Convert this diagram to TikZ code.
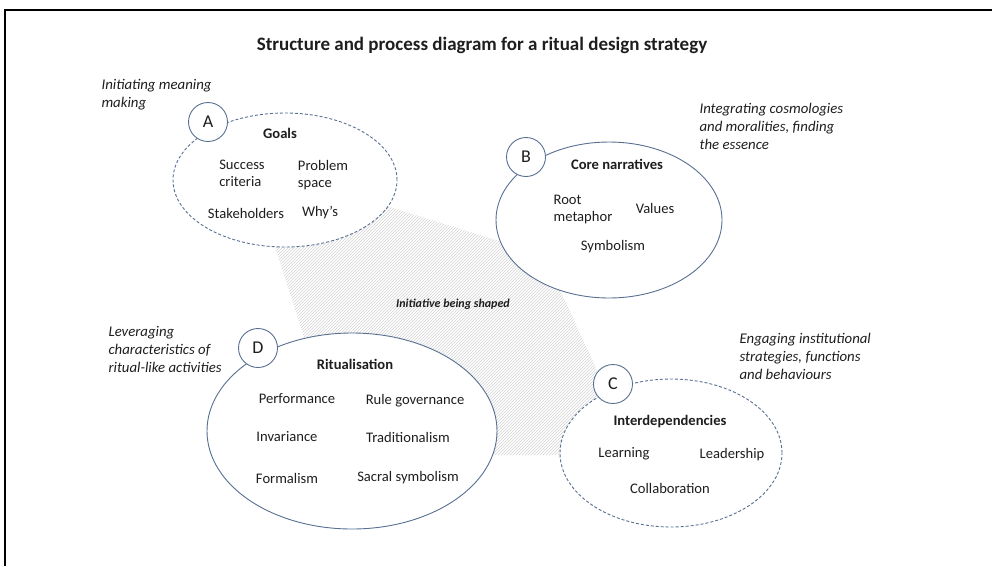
\documentclass[tikz,border=0pt]{standalone}
\usepackage{fontspec}
\setmainfont{Carlito}
\usetikzlibrary{shapes.geometric,patterns}
\definecolor{rimblue}{RGB}{88,112,146}
\definecolor{inkgrey}{RGB}{30,30,30}

\begin{document}
\begin{tikzpicture}[x=1pt,y=-1pt,
    every node/.style={text=inkgrey,font=\fontsize{14.6}{17}\selectfont},
    blob/.style={ellipse,draw=rimblue,line width=0.9pt,fill=white,inner sep=0pt},
    dashblob/.style={blob,dash pattern=on 3pt off 2pt},
    letter/.style={circle,draw=rimblue,line width=0.9pt,fill=white,minimum size=39pt,inner sep=0pt,font=\fontsize{18}{18}\selectfont},
    head/.style={font=\fontsize{14.6}{17}\selectfont\bfseries},
    note/.style={align=left,anchor=north west,font=\fontsize{14.8}{18}\selectfont\itshape}]
    \useasboundingbox (0,0) rectangle (992,566);
    \draw[line width=2pt] (5,566) -- (5,10) -- (992,10);
    \node[font=\fontsize{19}{21}\selectfont\bfseries] (title) at (482,45) {Structure and process diagram for a ritual design strategy};
    \fill[pattern=north east lines,pattern color=gray!35] (248,163) -- (544,255) -- (636,455) -- (342,455) -- cycle;
    \node[font=\fontsize{12}{14}\selectfont\bfseries\itshape] (shaped) at (453,304) {Initiative being shaped};
    \node[dashblob,minimum width=224pt,minimum height=134pt] (goals) at (285,180) {};
    \node[blob,minimum width=226pt,minimum height=156pt] (core) at (609,220) {};
    \node[blob,minimum width=290pt,minimum height=196pt] (ritual) at (352,431) {};
    \node[dashblob,minimum width=222pt,minimum height=148pt] (inter) at (671,453) {};
    \node[letter] (circA) at (208,122) {A};
    \node[letter] (circB) at (526,157) {B};
    \node[letter] (circC) at (613,384) {C};
    \node[letter] (circD) at (258,348) {D};
    \node[head] (goalshead) at (280,133) {Goals};
    \node[align=left] (success) at (242,173) {Success\\criteria};
    \node[align=left] (problem) at (323,175) {Problem\\space};
    \node (stake) at (246,213) {Stakeholders};
    \node (whys) at (320,213) {Why’s};
    \node[head] (corehead) at (617,164) {Core narratives};
    \node[align=left] (root) at (583,209) {Root\\metaphor};
    \node (values) at (655,208) {Values};
    \node (symbol) at (613,247) {Symbolism};
    \node[head] (ritualhead) at (355,364) {Ritualisation};
    \node (perf) at (297,399) {Performance};
    \node (rule) at (415,401) {Rule governance};
    \node (invar) at (287,437) {Invariance};
    \node (trad) at (408,437) {Traditionalism};
    \node (formal) at (287,478) {Formalism};
    \node (sacral) at (408,478) {Sacral symbolism};
    \node[head] (interhead) at (670,422) {Interdependencies};
    \node (learn) at (624,454) {Learning};
    \node (lead) at (732,455) {Leadership};
    \node (collab) at (670,488) {Collaboration};
    \node[note] (noteA) at (98,76) {Initiating meaning\\making};
    \node[note] (noteB) at (696,100) {Integrating cosmologies\\and moralities, finding\\the essence};
    \node[note] (noteD) at (105,323) {Leveraging\\characteristics of\\ritual-like activities};
    \node[note] (noteC) at (736,330) {Engaging institutional\\strategies, functions\\and behaviours};
\end{tikzpicture}
\end{document}
